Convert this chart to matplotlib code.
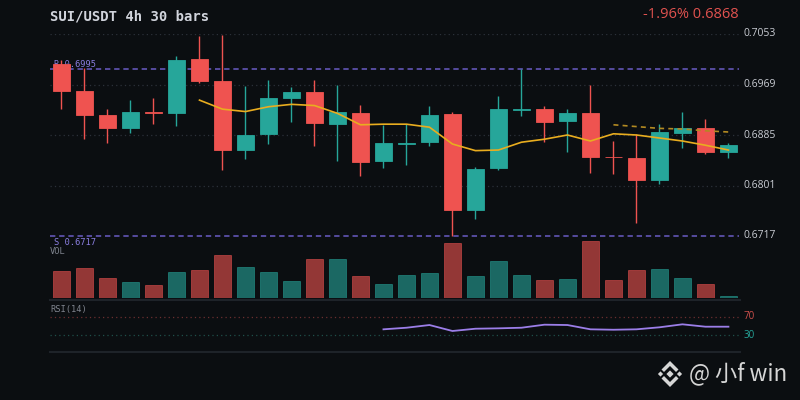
import matplotlib
matplotlib.use("Agg")
import matplotlib.pyplot as plt
from matplotlib.patches import Rectangle, Polygon

# ---------------- data ----------------
opens  = [0.7003, 0.6958, 0.6918, 0.6896, 0.6923, 0.6922, 0.7011, 0.6974, 0.6860, 0.6886,
          0.6947, 0.6957, 0.6904, 0.6922, 0.6841, 0.6870, 0.6873, 0.6920, 0.6761, 0.6830,
          0.6927, 0.6928, 0.6908, 0.6921, 0.6849, 0.6846, 0.6810, 0.6889, 0.6896, 0.6856]
highs  = [0.7010, 0.6996, 0.6929, 0.6944, 0.6946, 0.7016, 0.7049, 0.7051, 0.6966, 0.6976,
          0.6965, 0.6976, 0.6968, 0.6935, 0.6902, 0.6903, 0.6933, 0.6923, 0.6832, 0.6950,
          0.6994, 0.6934, 0.6928, 0.6969, 0.6875, 0.6886, 0.6904, 0.6923, 0.6912, 0.6871]
lows   = [0.6929, 0.6879, 0.6871, 0.6889, 0.6904, 0.6900, 0.6971, 0.6826, 0.6845, 0.6870,
          0.6907, 0.6867, 0.6841, 0.6817, 0.6830, 0.6835, 0.6867, 0.6717, 0.6746, 0.6827,
          0.6917, 0.6874, 0.6857, 0.6822, 0.6820, 0.6738, 0.6804, 0.6864, 0.6853, 0.6846]
closes = [0.6959, 0.6918, 0.6896, 0.6923, 0.6922, 0.7009, 0.6975, 0.6860, 0.6885, 0.6947,
          0.6956, 0.6905, 0.6923, 0.6840, 0.6871, 0.6871, 0.6919, 0.6761, 0.6828, 0.6928,
          0.6928, 0.6907, 0.6921, 0.6849, 0.6848, 0.6810, 0.6890, 0.6896, 0.6857, 0.6868]
volumes = [2.64, 2.94, 1.97, 1.57, 1.24, 2.60, 2.80, 4.24, 3.07, 2.54,
           1.64, 3.87, 3.84, 2.14, 1.37, 2.24, 2.44, 5.44, 2.14, 3.64,
           2.27, 1.77, 1.84, 5.67, 1.77, 2.74, 2.87, 2.00, 1.40, 0.20]
ma_fast = [0.6943, 0.6928, 0.6924, 0.6932, 0.6936, 0.6934, 0.6921, 0.6902, 0.6903, 0.6903,
           0.6898, 0.6870, 0.6859, 0.6860, 0.6873, 0.6878, 0.6885, 0.6875, 0.6887, 0.6885,
           0.6880, 0.6875, 0.6868, 0.6860]          # candles 7..30
ma_slow = [0.6902, 0.6899, 0.6896, 0.6895, 0.6892, 0.6890]   # candles 25..30
rsi_vals = [42.9, 46.3, 52.1, 39.3, 44.2, 45.0, 46.3, 52.8, 52.1, 42.9,
            42.0, 42.9, 47.2, 53.6, 48.5, 48.5]   # candles 15..30
price_ticks = [0.7053, 0.6969, 0.6885, 0.6801, 0.6717]
resistance = 0.6995
support = 0.6717
title = "SUI/USDT 4h 30 bars"
change_text = "-1.96% 0.6868"

# ---------------- style ----------------
BG = "#0b0e11"
UP = "#26a69a"
DN = "#ef5350"
GRID = "#2b3139"
LEVEL = "#6a5cc4"
LABEL = "#d1d4dc"
MUTED = "#7f848e"
W, H = 800, 400

fig = plt.figure(figsize=(8, 4), dpi=100, facecolor=BG)


def ax_px(x0, y0, x1, y1):
    a = fig.add_axes([x0 / W, 1 - y1 / H, (x1 - x0) / W, (y1 - y0) / H])
    a.set_facecolor("none")
    a.set_axis_off()
    return a


n = len(closes)
xs = list(range(n))
XL = (-0.5, 29.46)
BW = 0.71
mono = "DejaVu Sans Mono"
sans = "Open Sans"

# ---------------- price pane ----------------
ax = ax_px(50, 34, 739, 236)
ax.set_xlim(*XL)
ax.set_ylim(price_ticks[-1], price_ticks[0])
for t in price_ticks[:-1]:
    ax.axhline(t, color=GRID, lw=0.9, ls=(0, (1, 2.5)), zorder=0)
ax.axhline(resistance, color=LEVEL, lw=1.1, ls=(0, (3.5, 2.5)), zorder=1, clip_on=False)
ax.axhline(support, color=LEVEL, lw=1.1, ls=(0, (3.5, 2.5)), zorder=1, clip_on=False)
# resistance label sits behind the first candle
ax.text(4 / 689 * 29.96 - 0.5 + 0.0, resistance, f"R {resistance:.4f}", color="#8a7ee0",
        fontsize=6.3, family=mono, ha="left", va="bottom", zorder=1, clip_on=False)

for i in xs:
    o, h, l, c = opens[i], highs[i], lows[i], closes[i]
    col = UP if c >= o else DN
    ax.vlines(i, l, h, color=col, lw=1.0, zorder=2, clip_on=False)
    bot = min(o, c)
    ht = max(abs(c - o), 0.00009)
    ax.add_patch(Rectangle((i - BW / 2, bot), BW, ht, facecolor=col,
                           edgecolor=col, lw=0.6, zorder=3, clip_on=False))

ax.plot(xs[6:], ma_fast, color="#e9ad1f", lw=1.2, zorder=4, clip_on=False)
ax.plot(xs[24:], ma_slow, color="#b38a22", lw=1.2, ls=(0, (3, 2.5)), zorder=4, clip_on=False)

# ---------------- volume pane ----------------
axv = ax_px(50, 240.7, 739, 297.7)
axv.set_xlim(*XL)
axv.set_ylim(0, 5.7)
for i in xs:
    col = UP if closes[i] >= opens[i] else DN
    axv.bar(i, volumes[i], width=BW, color=col, alpha=0.6, edgecolor=col, lw=0.6)

# ---------------- RSI pane ----------------
axr = ax_px(50, 300.3, 739, 351.7)
axr.set_xlim(*XL)
axr.set_ylim(-5, 105)
axr.axhline(70, color="#6b2f30", lw=0.9, ls=(0, (1, 2.5)))
axr.axhline(30, color="#1f4f4a", lw=0.9, ls=(0, (1, 2.5)))
axr.plot(xs[14:], rsi_vals, color="#9b7ee8", lw=1.3)

# ---------------- overlay for text / separators ----------------
ov = fig.add_axes([0, 0, 1, 1])
ov.set_axis_off()
ov.set_facecolor("none")
ov.set_xlim(0, W)
ov.set_ylim(H, 0)

ov.plot([50, 740], [300.3, 300.3], color="#1e2329", lw=1.5)
ov.plot([50, 740], [351.7, 351.7], color="#1e2329", lw=1.5)

ov.text(50, 16, title, color=LABEL, fontsize=10, fontweight="bold", family=mono,
        ha="left", va="center")
ov.text(739, 15, change_text, color="#e0524f", fontsize=10.5, family=sans,
        ha="right", va="center")

for t in price_ticks:
    y = 34 + (price_ticks[0] - t) / (price_ticks[0] - price_ticks[-1]) * 202
    ov.text(744, y, f"{t:.4f}", color="#c9ccd3", fontsize=7.5, family=sans,
            ha="left", va="center")

ov.text(54, 242.3, f"S {support:.4f}", color="#8a7ee0", fontsize=6.3, family=mono,
        ha="left", va="center")
ov.text(50, 251.5, "VOL", color=MUTED, fontsize=6.3, family=mono, ha="left", va="center")
ov.text(50, 309.5, "RSI(14)", color=MUTED, fontsize=6.3, family=mono, ha="left", va="center")
ov.text(744, 316.7, "70", color="#d0504c", fontsize=7, family=sans, ha="left", va="center")
ov.text(744, 335.3, "30", color="#26a69a", fontsize=7, family=sans, ha="left", va="center")

# watermark: logo + handle
cx, cy = 670, 374
wm = "#d6d6d6"


def diamond(x, y, r):
    return Polygon([(x, y - r), (x + r, y), (x, y + r), (x - r, y)], closed=True,
                   facecolor=wm, edgecolor="none")


ov.add_patch(diamond(cx, cy, 3.6))
ov.add_patch(diamond(cx - 9.5, cy, 2.6))
ov.add_patch(diamond(cx + 9.5, cy, 2.6))
for s in (-1, 1):
    ov.add_patch(Polygon([(cx - 8.5, cy + s * 4.5), (cx, cy + s * 13), (cx + 8.5, cy + s * 4.5),
                          (cx + 6, cy + s * 2.0), (cx, cy + s * 8), (cx - 6, cy + s * 2.0)],
                         closed=True, facecolor=wm, edgecolor="none"))
ov.text(689, 373, "@ 小f win", color=wm, fontsize=16, family=["Noto Sans CJK SC", "DejaVu Sans"],
        ha="left", va="center")

fig.savefig("out.png", dpi=100, facecolor=BG)
